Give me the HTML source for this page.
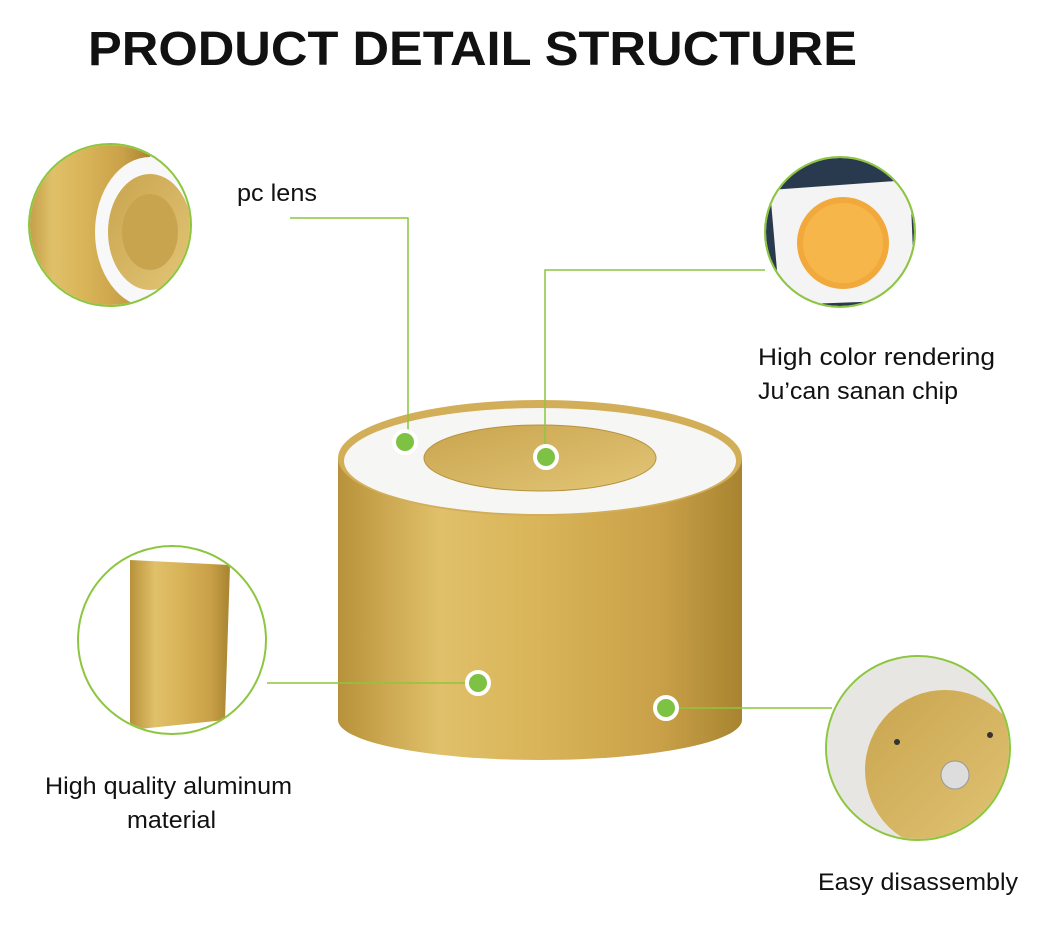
<!DOCTYPE html>
<html><head><style>
body{margin:0;background:#fff;width:1050px;height:939px;overflow:hidden;font-family:"Liberation Sans",sans-serif}
</style></head><body>
<svg width="1050" height="939" viewBox="0 0 1050 939" xmlns="http://www.w3.org/2000/svg">
<defs>
<linearGradient id="g" x1="0" x2="1" y1="0" y2="0">
<stop offset="0" stop-color="#b8923a"/><stop offset="0.25" stop-color="#e0c06a"/><stop offset="0.5" stop-color="#d9b458"/><stop offset="0.8" stop-color="#c9a048"/><stop offset="1" stop-color="#a88430"/>
</linearGradient>
<linearGradient id="g2" x1="0" x2="1" y1="0" y2="1">
<stop offset="0" stop-color="#c9a44e"/><stop offset="1" stop-color="#e2c677"/>
</linearGradient>
<clipPath id="c1"><circle cx="110" cy="225" r="80"/></clipPath>
<clipPath id="c2"><circle cx="840" cy="232" r="74"/></clipPath>
<clipPath id="c3"><circle cx="172" cy="640" r="93"/></clipPath>
<clipPath id="c4"><circle cx="918" cy="748" r="91"/></clipPath>
</defs>
<text x="88" y="65" font-size="48" font-weight="bold" fill="#111" textLength="769" lengthAdjust="spacingAndGlyphs">PRODUCT DETAIL STRUCTURE</text>

<path d="M338 458 L338 720 A202 40 0 0 0 742 720 L742 458 Z" fill="url(#g)"/>
<ellipse cx="540" cy="458" rx="202" ry="58" fill="#d2ae58"/>
<ellipse cx="540" cy="461" rx="196" ry="53" fill="#f6f6f4"/>
<ellipse cx="540" cy="458" rx="116" ry="33" fill="url(#g2)" stroke="#b8923e"/>

<g stroke="#8cc63f" stroke-width="1.5" fill="none">
<polyline points="290,218 408,218 408,442"/>
<polyline points="545,457 545,270 765,270"/>
<line x1="267" y1="683" x2="478" y2="683"/>
<line x1="666" y1="708" x2="832" y2="708"/>
</g>
<g fill="#7dc243" stroke="#fff" stroke-width="4">
<circle cx="405" cy="442" r="11"/><circle cx="546" cy="457" r="11"/>
<circle cx="478" cy="683" r="11"/><circle cx="666" cy="708" r="11"/>
</g>

<g clip-path="url(#c1)">
<rect x="20" y="140" width="180" height="180" fill="#eee"/>
<rect x="20" y="140" width="130" height="180" fill="url(#g)"/>
<ellipse cx="150" cy="232" rx="55" ry="75" fill="#f8f8f8"/>
<ellipse cx="150" cy="232" rx="42" ry="58" fill="url(#g2)"/>
<ellipse cx="150" cy="232" rx="28" ry="38" fill="#c9a44e"/>
</g>
<circle cx="110" cy="225" r="81" fill="none" stroke="#8cc63f" stroke-width="2"/>

<g clip-path="url(#c2)">
<rect x="760" y="150" width="160" height="160" fill="#2a3a4e"/>
<polygon points="770,190 910,180 915,300 780,305" fill="#f4f4f4"/>
<circle cx="843" cy="243" r="46" fill="#f2a93c"/>
<circle cx="843" cy="243" r="40" fill="#f6b64a"/>
</g>
<circle cx="840" cy="232" r="75" fill="none" stroke="#8cc63f" stroke-width="2"/>

<g clip-path="url(#c3)">
<rect x="70" y="540" width="210" height="200" fill="#fff"/>
<path d="M130 560 L230 565 L225 720 L130 730 Z" fill="url(#g)"/>
</g>
<circle cx="172" cy="640" r="94" fill="none" stroke="#8cc63f" stroke-width="2"/>

<g clip-path="url(#c4)">
<rect x="820" y="650" width="200" height="200" fill="#e8e6e2"/>
<ellipse cx="945" cy="770" rx="80" ry="80" fill="url(#g2)"/>
<circle cx="955" cy="775" r="14" fill="#ddd" stroke="#999"/>
<circle cx="897" cy="742" r="3" fill="#333"/><circle cx="990" cy="735" r="3" fill="#333"/>
</g>
<circle cx="918" cy="748" r="92" fill="none" stroke="#8cc63f" stroke-width="2"/>

<g font-size="24" fill="#111">
<text x="237" y="201" textLength="80" lengthAdjust="spacingAndGlyphs">pc lens</text>
<text x="758" y="365" textLength="237" lengthAdjust="spacingAndGlyphs">High color rendering</text>
<text x="758" y="399" textLength="200" lengthAdjust="spacingAndGlyphs">Ju’can sanan chip</text>
<text x="45" y="794" textLength="247" lengthAdjust="spacingAndGlyphs">High quality aluminum</text>
<text x="127" y="828" textLength="89" lengthAdjust="spacingAndGlyphs">material</text>
<text x="818" y="890" textLength="200" lengthAdjust="spacingAndGlyphs">Easy disassembly</text>
</g>
</svg>
</body></html>
